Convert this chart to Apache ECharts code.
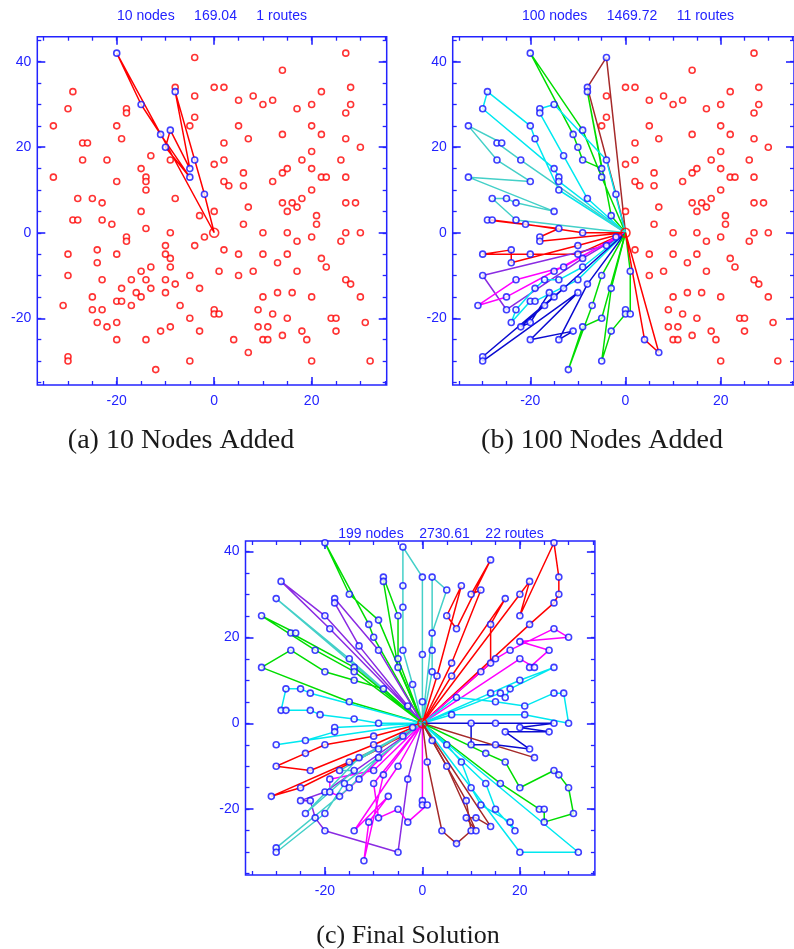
<!DOCTYPE html>
<html>
<head>
<meta charset="utf-8">
<title>Route construction</title>
<script src="https://cdn.jsdelivr.net/npm/echarts@6/dist/echarts.min.js"></script>
<style>
  html, body { margin: 0; padding: 0; background: #fff; }
  #main { width: 794px; height: 949px; }
</style>
</head>
<body>
<div id="main"></div>
<script>
// depot and customer coordinates
var depot = [0, 0];
var nodesWest = [
  [-20,42],[-4,41],[-8,34],[-8,33],[-4,32],[0,34],[-29,33],[-30,29],[-18,29],[-18,28],[-15,30],[-33,25],
  [-20,25],[-19,22],[-11,23],[-9,24],[-5,25],[-4,27],[-27,21],[-26,21],[-27,17],[-22,17],[-10,20],[-9,17],
  [-4,17],[-13,18],[-15,15],[-14,13],[-14,12],[-14,10],[-5,15],[-5,13],[-33,13],[-20,12],[0,16],[-2,9],
  [-8,8],[0,5],[-3,4],[-28,8],[-25,8],[-23,7],[-15,5],[-29,3],[-28,3],[-23,3],[-21,2],[-14,1],[-9,0],
  [-18,-1],[-18,-2],[-2,-1],[-30,-5],[-24,-4],[-20,-5],[-24,-7],[-10,-3],[-4,-3],[-10,-5],[-9,-6],[-9,-8],
  [-13,-8],[-15,-9],[-30,-10],[-23,-11],[-14,-11],[-10,-11],[-17,-11],[-19,-13],[-13,-13],[-8,-12],[-5,-10],
  [-16,-14],[-15,-15],[-10,-14],[-25,-15],[-31,-17],[-25,-18],[-23,-18],[-20,-16],[-19,-16],[-17,-17],
  [-7,-17],[-3,-13],[-24,-21],[-22,-22],[-20,-21],[-5,-20],[-9,-22],[0,-18],[0,-19],[-20,-25],[-14,-25],
  [-11,-23],[-3,-23],[-30,-29],[-30,-30],[-5,-30],[-12,-32]
];
var nodesEast = [
  [27,42],[14,38],[2,34],[22,33],[28,34],[5,31],[8,32],[10,30],[12,31],[17,29],[20,30],[28,30],[27,28],
  [5,25],[7,22],[14,23],[20,25],[22,23],[27,22],[30,20],[2,21],[2,17],[20,19],[18,17],[26,17],[6,14],
  [14,14],[15,15],[20,15],[22,13],[23,13],[27,13],[2,12],[3,11],[6,11],[12,12],[20,10],[18,8],[14,7],
  [16,7],[17,6],[15,5],[7,6],[27,7],[29,7],[21,4],[21,2],[6,2],[10,0],[15,0],[20,-1],[27,0],[30,0],
  [17,-2],[26,-2],[2,-4],[5,-5],[10,-5],[15,-5],[13,-7],[22,-6],[23,-8],[1,-9],[5,-10],[8,-9],[17,-9],
  [27,-11],[28,-12],[10,-15],[13,-14],[16,-14],[20,-15],[30,-15],[1,-19],[9,-18],[12,-19],[15,-20],
  [24,-20],[25,-20],[31,-21],[9,-22],[11,-22],[14,-24],[18,-23],[25,-23],[4,-25],[10,-25],[11,-25],
  [19,-25],[7,-28],[20,-30],[32,-30]
];

// routes (depot start/end implied)
var routesA = [
  [[-20,42],[-15,30],[-11,23],[-5,13],[-10,20],[-9,24],[-5,15],[-8,33],[-4,17],[-2,9]]
];
var routesB = [
  [[-3,4],[-8,33],[-5,15],[-9,17],[-10,20],[-11,23],[-20,42],[-9,24],[-5,13]],
  [[-4,41],[-8,34],[-2,9]],
  [[-4,17],[-15,30],[-18,29],[-18,28],[-13,18],[-8,8]],
  [[-14,10],[-19,22],[-20,25],[-29,33],[-30,29],[-15,15],[-14,13],[-14,12]],
  [[-22,17],[-27,21],[-26,21],[-33,25],[-27,17],[-20,12],[-33,13],[-15,5],[-23,7],[-25,8],[-28,8],[-23,3]],
  [[-9,0],[-21,2],[-28,3],[-29,3],[-14,1],[-18,-1],[-18,-2]],
  [[-10,-5],[-20,-5],[-30,-5],[-24,-4],[-24,-7],[-10,-3]],
  [[-4,-3],[-30,-10],[-25,-18],[-9,-6]],
  [[-2,-1],[-13,-8],[-23,-11],[-31,-17],[-25,-15],[-15,-9]],
  [[-9,-8],[-14,-11],[-17,-11],[-19,-13],[-23,-18],[-24,-21],[-20,-16],[-19,-16],[-10,-11]],
  [[-8,-12],[-14,-25],[-11,-23],[-20,-25],[-10,-14],[-30,-30],[-30,-29],[-13,-13],[-22,-22],[-20,-21],[-16,-14],[-15,-15],[-17,-17]],
  [[-5,-10],[-7,-17],[-12,-32],[-9,-22],[-5,-20]],
  [[-3,-13],[-5,-30],[-3,-23],[0,-19],[0,-18],[1,-19],[1,-9]],
  [[4,-25],[7,-28]]
];
var routesC = [
  [[-2,9],[-4,17],[-4,27],[-4,32],[-4,41],[0,34],[0,16],[0,5]],
  [[2,12],[2,17],[2,34],[5,31],[2,21]],
  [[-5,13],[-8,33],[-8,34],[-5,25],[-5,15]],
  [[-10,20],[-11,23],[-20,42],[-15,30],[-9,24]],
  [[-3,4],[-13,18],[-18,28],[-18,29],[-9,17]],
  [[-20,25],[-29,33],[-19,22]],
  [[-30,29],[-15,15]],
  [[-14,13],[-27,21],[-26,21],[-33,25],[-22,17],[-14,12]],
  [[-8,8],[-14,10],[-20,12],[-27,17],[-33,13],[-15,5]],
  [[-9,0],[-14,1],[-21,2],[-23,3],[-28,3],[-29,3],[-28,8],[-25,8],[-23,7]],
  [[-18,-1],[-18,-2],[-24,-4],[-30,-5]],
  [[-10,-3],[-20,-5],[-24,-7],[-30,-10],[-23,-11],[-10,-5]],
  [[-9,-6],[-25,-15],[-31,-17],[-15,-9],[-4,-3]],
  [[-10,-11],[-19,-13],[-19,-16],[-17,-17],[-13,-13],[-2,-1]],
  [[-20,-16],[-25,-18],[-23,-18],[-22,-22],[-20,-25],[-5,-30],[-3,-13]],
  [[-5,-10],[-14,-25],[-7,-17],[-11,-23],[-12,-32],[-8,-12]],
  [[-10,-14],[-9,-22],[-5,-20],[-3,-23],[1,-19],[0,-19],[0,-18]],
  [[-9,-8],[-15,-15],[-30,-29],[-30,-30],[-20,-21],[-16,-14]],
  [[-13,-8],[-24,-21],[-14,-11],[-17,-11]],
  [[22,23],[27,28],[28,30],[28,34],[27,42],[20,25],[22,33],[20,30]],
  [[14,14],[14,23],[17,29],[6,11]],
  [[3,11],[8,32],[5,25],[7,22],[14,38],[10,30],[12,31],[6,14]],
  [[12,12],[15,15],[18,17],[27,22],[30,20],[20,19],[26,17],[22,13],[23,13],[20,15]],
  [[16,7],[17,6],[18,8],[27,13],[20,10],[14,7]],
  [[6,2],[21,2],[30,0],[29,7],[27,7],[21,4],[15,5],[7,6]],
  [[15,0],[27,0],[20,-1],[26,-2],[17,-2],[22,-6],[15,-5],[10,-5],[10,0]],
  [[23,-8]],
  [[16,-14],[24,-20],[25,-20],[25,-23],[31,-21],[30,-15],[28,-12],[27,-11],[20,-15],[17,-9],[13,-7]],
  [[5,-5],[8,-9],[10,-15],[12,-19],[18,-23],[19,-25],[15,-20],[13,-14]],
  [[20,-30],[32,-30]],
  [[1,-9],[4,-25],[7,-28],[10,-25],[9,-18],[2,-4]],
  [[5,-10],[11,-25],[9,-22],[11,-22],[14,-24]]
];

var panelTitles = ['10 nodes     169.04     1 routes', '100 nodes     1469.72     11 routes', '199 nodes    2730.61    22 routes'];
var captions = ['(a) 10 Nodes Added', '(b) 100 Nodes Added', '(c) Final Solution'];
var xTicks = [-35,-30,-25,-20,-15,-10,-5,0,5,10,15,20,25,30,35];
var xLabels = [-20, 0, 20];
var yTicks = [-35,-30,-25,-20,-15,-10,-5,0,5,10,15,20,25,30,35,40,45];
var yLabels = [-20, 0, 20, 40];

// styles
var AXIS = '#2323ff';
var RED = '#ff0000', GREEN = '#00dd00', BLUE = '#0b0bd0', CYAN = '#00e8f0',
    MAGENTA = '#ff00ff', BROWN = '#a52a2a', PURPLE = '#8a2be2', TURQ = '#44d0c8';
var colorsA = [RED];
var colorsB = [GREEN, BROWN, CYAN, CYAN, TURQ, RED, RED, PURPLE, MAGENTA, CYAN, BLUE, GREEN, GREEN, RED];
var colorsC = [TURQ, TURQ, GREEN, GREEN, PURPLE, PURPLE, TURQ, GREEN, GREEN, CYAN, CYAN, RED, RED,
               MAGENTA, PURPLE, MAGENTA, MAGENTA, TURQ, TURQ, RED, RED, RED, MAGENTA, CYAN, CYAN,
               BLUE, BROWN, GREEN, CYAN, CYAN, BROWN, BROWN];

// panel frames in pixels, and data extents
var panels = [
  {left: 37.3, top: 36.7, width: 349.4, height: 348.3, xr: [-36.3, 35.4], yr: [-35.6, 45.85], routes: routesA, colors: colorsA, allBlue: false},
  {left: 452.7, top: 36.7, width: 349.4, height: 348.3, xr: [-36.3, 35.4], yr: [-35.6, 45.85], routes: routesB, colors: colorsB, allBlue: false},
  {left: 245.5, top: 541, width: 349.4, height: 334, xr: [-36.3, 35.4], yr: [-35.3, 42.4], routes: routesC, colors: colorsC, allBlue: true}
];

var allNodes = nodesWest.concat(nodesEast);
var grids = [], xAxes = [], yAxes = [], series = [];

function key(p) { return p[0] + ',' + p[1]; }

panels.forEach(function (p, g) {
  grids.push({left: p.left, top: p.top, width: p.width, height: p.height,
    show: true, borderColor: AXIS, borderWidth: 1.5, backgroundColor: 'transparent'});

  var xt = xTicks.filter(function (v) { return v >= p.xr[0] && v <= p.xr[1]; });
  var yt = yTicks.filter(function (v) { return v >= p.yr[0] && v <= p.yr[1]; });
  ['bottom', 'top'].forEach(function (pos) {
    xAxes.push({gridIndex: g, type: 'value', min: p.xr[0], max: p.xr[1], position: pos,
      axisLine: {show: false, onZero: false}, splitLine: {show: false},
      axisTick: {inside: true, length: 4, customValues: xt, lineStyle: {color: AXIS, width: 1.3}},
      axisLabel: pos === 'bottom' ? {customValues: xLabels, color: AXIS, fontSize: 14, margin: 9, fontFamily: 'Liberation Sans'} : {show: false}});
    xAxes.push({gridIndex: g, type: 'value', min: p.xr[0], max: p.xr[1], position: pos,
      axisLine: {show: false, onZero: false}, splitLine: {show: false},
      axisTick: {inside: true, length: 8, customValues: xLabels, lineStyle: {color: AXIS, width: 1.6}},
      axisLabel: {show: false}});
  });
  ['left', 'right'].forEach(function (pos) {
    yAxes.push({gridIndex: g, type: 'value', min: p.yr[0], max: p.yr[1], position: pos,
      axisLine: {show: false, onZero: false}, splitLine: {show: false},
      axisTick: {inside: true, length: 4, customValues: yt, lineStyle: {color: AXIS, width: 1.3}},
      axisLabel: pos === 'left' ? {customValues: yLabels, color: AXIS, fontSize: 14, margin: 6, fontFamily: 'Liberation Sans'} : {show: false}});
    yAxes.push({gridIndex: g, type: 'value', min: p.yr[0], max: p.yr[1], position: pos,
      axisLine: {show: false, onZero: false}, splitLine: {show: false},
      axisTick: {inside: true, length: 8, customValues: yLabels, lineStyle: {color: AXIS, width: 1.6}},
      axisLabel: {show: false}});
  });

  var xi = g * 4, yi = g * 4;
  var visited = {};
  p.routes.forEach(function (r, i) {
    r.forEach(function (pt) { visited[key(pt)] = true; });
    series.push({type: 'line', xAxisIndex: xi, yAxisIndex: yi, data: [depot].concat(r, [depot]),
      showSymbol: false, symbol: 'none', silent: true, z: 2,
      lineStyle: {color: p.colors[i], width: 1.5}});
  });

  var redPts = [], bluePts = [];
  allNodes.forEach(function (pt) {
    if (p.allBlue || visited[key(pt)]) bluePts.push(pt); else redPts.push(pt);
  });
  series.push({type: 'scatter', xAxisIndex: xi, yAxisIndex: yi, data: redPts, symbol: 'circle', symbolSize: 6,
    silent: true, z: 3, itemStyle: {color: '#fff', borderColor: RED, borderWidth: 1.6}});
  series.push({type: 'scatter', xAxisIndex: xi, yAxisIndex: yi, data: bluePts, symbol: 'circle', symbolSize: 6,
    silent: true, z: 4, itemStyle: {color: '#fff', borderColor: '#1010ff', borderWidth: 1.6}});
  series.push({type: 'scatter', xAxisIndex: xi, yAxisIndex: yi, data: [depot], symbol: 'circle', symbolSize: 9,
    silent: true, z: 5, itemStyle: {color: 'rgba(255,255,255,0)', borderColor: RED, borderWidth: 1.6}});
});

var titlePos = [[212, 16], [628, 16], [441, 534]];
var captionPos = [[181, 441], [602, 441], [408, 936]];
var captionSize = [28, 28, 26];
var graphics = [];
panelTitles.forEach(function (t, i) {
  graphics.push({type: 'text', x: titlePos[i][0], y: titlePos[i][1], z: 10,
    style: {text: t, fill: AXIS, font: '14px "Liberation Sans"', align: 'center', verticalAlign: 'middle'}});
});
captions.forEach(function (t, i) {
  graphics.push({type: 'text', x: captionPos[i][0], y: captionPos[i][1], z: 10,
    style: {text: t, fill: '#1a1a1a', font: captionSize[i] + 'px "Liberation Serif"', align: 'center', verticalAlign: 'middle'}});
});

var myChart = echarts.init(document.getElementById('main'), null, {renderer: 'canvas'});
myChart.setOption({
  animation: false,
  backgroundColor: '#fff',
  grid: grids,
  xAxis: xAxes,
  yAxis: yAxes,
  series: series,
  graphic: graphics
});
</script>
</body>
</html>
